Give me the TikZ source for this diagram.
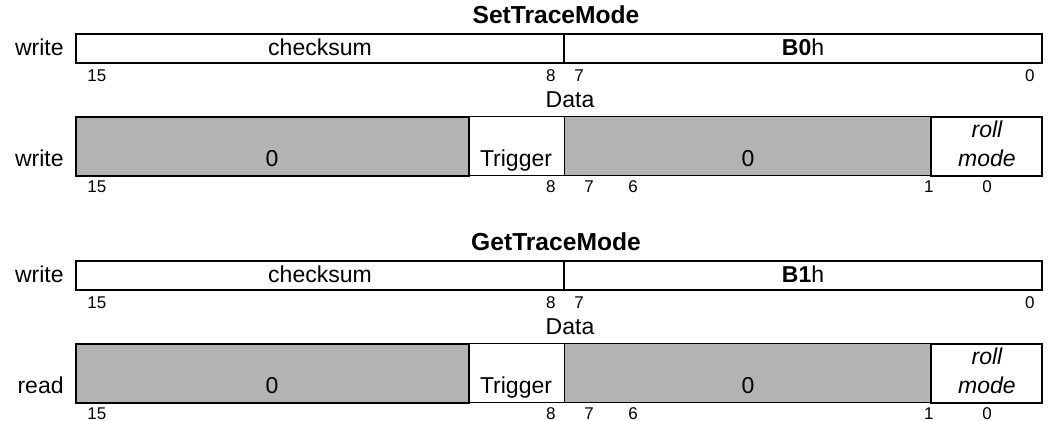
\documentclass[tikz,border=0pt]{standalone}
\usepackage{fontspec}
\setmainfont{Liberation Sans}
\usetikzlibrary{positioning}
\definecolor{fieldgray}{HTML}{B3B3B3}
\tikzset{
  txt/.style={anchor=base,inner sep=0pt,font=\fontsize{11.5}{14}\selectfont},
  ttl/.style={txt,font=\fontsize{12.3}{14}\selectfont\bfseries},
  bitno/.style={anchor=base,inner sep=0pt,font=\fontsize{8.5}{10}\selectfont},
  thick line/.style={line width=1pt},
  thin line/.style={line width=0.5pt},
}

\begin{document}
\begin{tikzpicture}[x=0.5pt,y=-0.5pt]
  \useasboundingbox (0,0) rectangle (1055,421);
  % one block per command
  \foreach \dy/\cmd/\code/\dir/\i in {0/SetTraceMode/B0/write/1, 227/GetTraceMode/B1/read/2}{
    \begin{scope}[yshift=-\dy*0.5pt]
      \node[ttl] (title-\i) at (556,24) {\cmd};
      % command word
      \draw[thick line] (76,34) rectangle (1042,63);
      \draw[thick line] (564,34) -- (564,63);
      \node[txt,anchor=base east] (cmdrw-\i) at (64,56) {write};
      \node[txt] (chk-\i) at (320,56) {checksum};
      \node[txt] (code-\i) at (803,56) {\textbf{\code}h};
      \node[bitno,anchor=base west] (c15-\i) at (87,82) {15};
      \node[bitno,anchor=base east] (c8-\i) at (556,82) {8};
      \node[bitno,anchor=base west] (c7-\i) at (574,82) {7};
      \node[bitno,anchor=base east] (c0-\i) at (1035,82) {0};
      \node[txt] (data-\i) at (570,108) {Data};
      % data word
      \fill[fieldgray] (76,117) rectangle (469,176);
      \fill[fieldgray] (564,117) rectangle (931,176);
      \draw[thin line] (76,117) rectangle (1042,176);
      \draw[thin line] (564,117) -- (564,176);
      \draw[thick line] (76,117) rectangle (469,176);
      \draw[thick line] (931,117) rectangle (1042,176);
      \node[txt,anchor=base east] (datarw-\i) at (64,167) {\dir};
      \node[txt] (hi-\i) at (272,167) {0};
      \node[txt] (trig-\i) at (516,167) {Trigger};
      \node[txt] (lo-\i) at (748,167) {0};
      \node[txt] (roll-\i) at (987,138) {\itshape roll};
      \node[txt] (mode-\i) at (987,167) {\itshape mode};
      \node[bitno,anchor=base west] (d15-\i) at (87,193) {15};
      \node[bitno,anchor=base east] (d8-\i) at (556,193) {8};
      \node[bitno,anchor=base west] (d7-\i) at (584,193) {7};
      \node[bitno,anchor=base west] (d6-\i) at (628,193) {6};
      \node[bitno,anchor=base east] (d1-\i) at (934,193) {1};
      \node[bitno] (d0-\i) at (987,193) {0};
    \end{scope}
  }
\end{tikzpicture}
\end{document}
